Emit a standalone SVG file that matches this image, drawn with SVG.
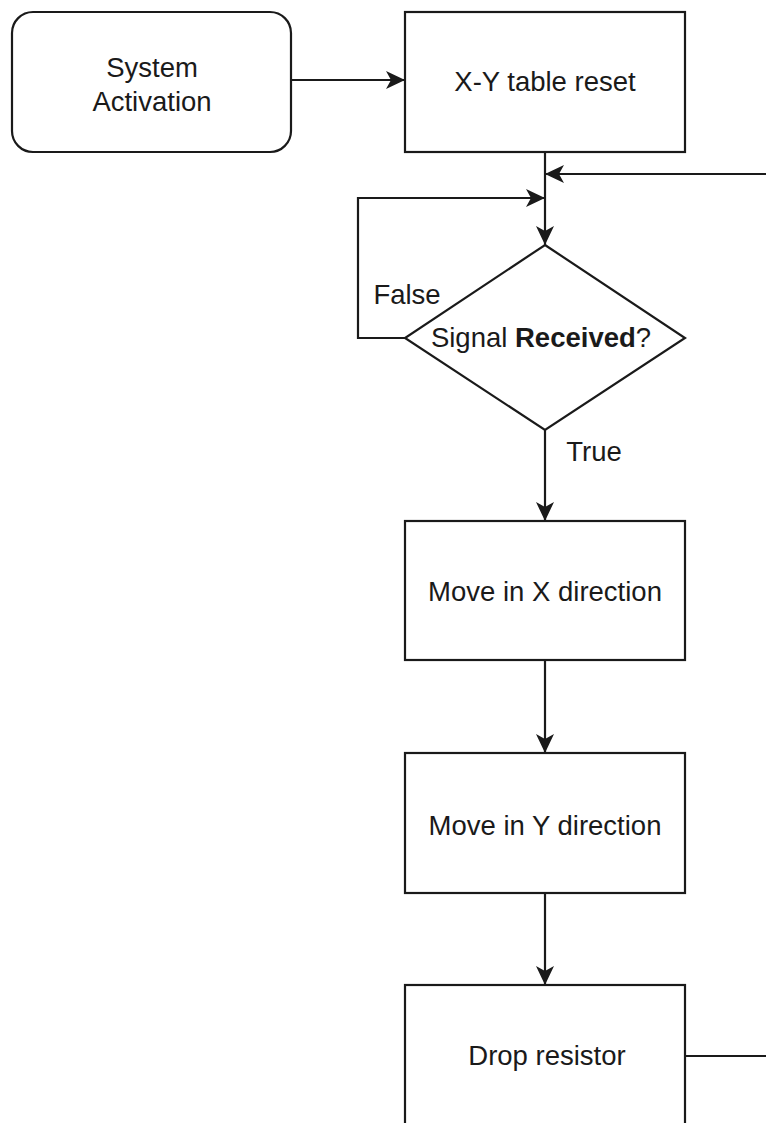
<svg xmlns="http://www.w3.org/2000/svg" width="766" height="1123" viewBox="0 0 766 1123">
<style>
.n{fill:#fff;stroke:#1a1a1a;stroke-width:2.2}
.t{font-family:"Liberation Sans",Arial,sans-serif;font-size:27.5px;fill:#1a1a1a;text-anchor:middle}
.e{fill:none;stroke:#1a1a1a;stroke-width:2.2}
</style>
<defs>
<marker id="a" markerUnits="userSpaceOnUse" markerWidth="20" markerHeight="18" refX="19" refY="9" orient="auto" viewBox="0 0 20 18">
<path d="M0,0 L19,9 L0,18 L5,9 Z" fill="#1a1a1a"/>
</marker>
</defs>
<rect width="766" height="1123" fill="#fff"/>
<g id="connectors">
<path class="e" d="M291,80 H405" marker-end="url(#a)"/>
<path class="e" d="M545,152 V245" marker-end="url(#a)"/>
<path class="e" d="M685,1056 H800 V174 H545" marker-end="url(#a)"/>
<path class="e" d="M405,338 H358 V198 H545" marker-end="url(#a)"/>
<path class="e" d="M545,430 V521" marker-end="url(#a)"/>
<path class="e" d="M545,660 V753" marker-end="url(#a)"/>
<path class="e" d="M545,893 V985" marker-end="url(#a)"/>
<text class="t" x="407" y="304">False</text>
<text class="t" x="594" y="461">True</text>
</g>
<g id="start">
<rect class="n" x="12" y="12" width="279" height="140" rx="21"/>
<text class="t" x="152" y="77">System</text>
<text class="t" x="152" y="111">Activation</text>
</g>
<g id="reset">
<rect class="n" x="405" y="12" width="280" height="140"/>
<text class="t" x="545" y="91">X-Y table reset</text>
</g>
<g id="decision">
<path class="n" d="M545,245 L685,338 L545,430 L405,338 Z"/>
<text class="t" x="541" y="347">Signal <tspan font-weight="bold">Received</tspan>?</text>
</g>
<g id="movex">
<rect class="n" x="405" y="521" width="280" height="139"/>
<text class="t" x="545" y="601">Move in X direction</text>
</g>
<g id="movey">
<rect class="n" x="405" y="753" width="280" height="140"/>
<text class="t" x="545" y="835">Move in Y direction</text>
</g>
<g id="drop">
<rect class="n" x="405" y="985" width="280" height="200"/>
<text class="t" x="547" y="1065">Drop resistor</text>
</g>
</svg>
